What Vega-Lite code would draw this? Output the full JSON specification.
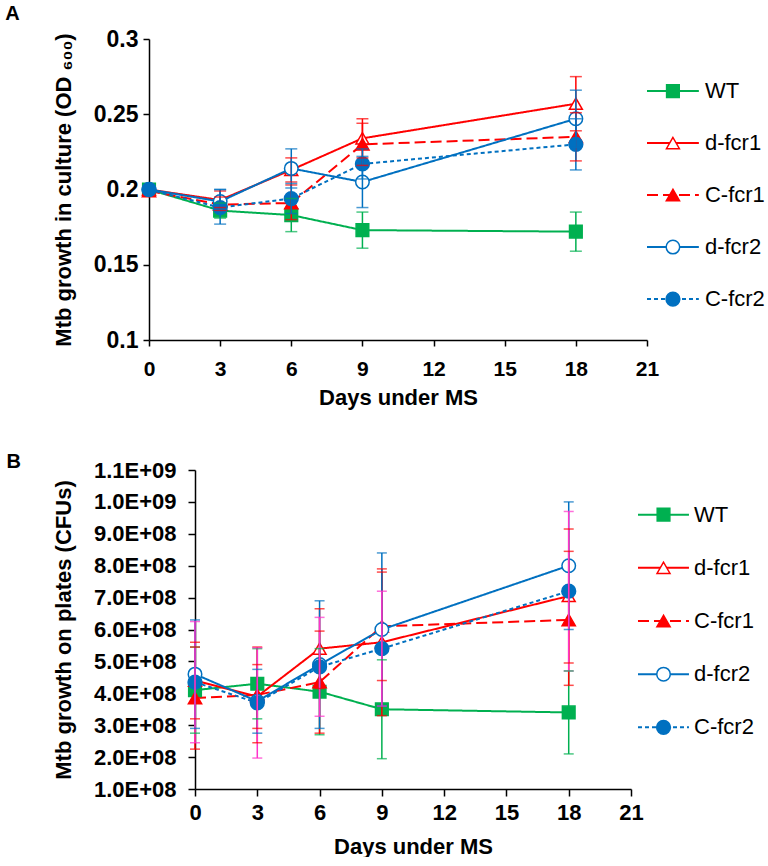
{
  "$schema": "https://vega.github.io/schema/vega-lite/v6.json",
  "background": "white",
  "padding": {"left": 5, "top": 4, "right": 0, "bottom": 0},
  "config": {
    "view": {"stroke": null},
    "font": "Liberation Sans",
    "legend": {"disable": true},
    "axis": {
      "domainColor": "#000000", "domainWidth": 1.5, "tickColor": "#000000", "tickWidth": 1.5,
      "grid": false, "labelColor": "#000000", "titleColor": "#000000",
      "labelFont": "Liberation Sans", "titleFont": "Liberation Sans",
      "labelFontWeight": "bold", "titleFontWeight": "bold", "labelOverlap": false
    },
    "title": {"font": "Liberation Sans", "fontWeight": "bold", "color": "#000000", "anchor": "start", "frame": "bounds"}
  },
  "datasets": {
    "a": [
      {"series": "WT", "day": 0, "value": 0.2, "lo": null, "hi": null},
      {"series": "WT", "day": 3, "value": 0.186, "lo": 0.181, "hi": 0.191},
      {"series": "WT", "day": 6, "value": 0.183, "lo": 0.172, "hi": 0.194},
      {"series": "WT", "day": 9, "value": 0.173, "lo": 0.161, "hi": 0.185},
      {"series": "WT", "day": 18, "value": 0.172, "lo": 0.159, "hi": 0.185},
      {"series": "d-fcr1", "day": 0, "value": 0.2, "lo": null, "hi": null},
      {"series": "d-fcr1", "day": 3, "value": 0.193, "lo": 0.188, "hi": 0.199},
      {"series": "d-fcr1", "day": 6, "value": 0.213, "lo": 0.205, "hi": 0.221},
      {"series": "d-fcr1", "day": 9, "value": 0.234, "lo": 0.221, "hi": 0.247},
      {"series": "d-fcr1", "day": 18, "value": 0.257, "lo": 0.239, "hi": 0.275},
      {"series": "C-fcr1", "day": 0, "value": 0.199, "lo": null, "hi": null},
      {"series": "C-fcr1", "day": 3, "value": 0.19, "lo": 0.186, "hi": 0.195},
      {"series": "C-fcr1", "day": 6, "value": 0.191, "lo": 0.18, "hi": 0.203},
      {"series": "C-fcr1", "day": 9, "value": 0.23, "lo": 0.216, "hi": 0.244},
      {"series": "C-fcr1", "day": 18, "value": 0.235, "lo": 0.219, "hi": 0.251},
      {"series": "d-fcr2", "day": 0, "value": 0.2, "lo": null, "hi": null},
      {"series": "d-fcr2", "day": 3, "value": 0.192, "lo": 0.185, "hi": 0.2},
      {"series": "d-fcr2", "day": 6, "value": 0.214, "lo": 0.201, "hi": 0.227},
      {"series": "d-fcr2", "day": 9, "value": 0.205, "lo": 0.188, "hi": 0.222},
      {"series": "d-fcr2", "day": 18, "value": 0.247, "lo": 0.228, "hi": 0.266},
      {"series": "C-fcr2", "day": 0, "value": 0.2, "lo": null, "hi": null},
      {"series": "C-fcr2", "day": 3, "value": 0.188, "lo": 0.177, "hi": 0.2},
      {"series": "C-fcr2", "day": 6, "value": 0.194, "lo": 0.184, "hi": 0.204},
      {"series": "C-fcr2", "day": 9, "value": 0.217, "lo": 0.207, "hi": 0.227},
      {"series": "C-fcr2", "day": 18, "value": 0.23, "lo": 0.213, "hi": 0.247}
    ],
    "b": [
      {"series": "WT", "day": 0, "value": 410000000, "lo": 275000000, "hi": 545000000},
      {"series": "WT", "day": 3, "value": 430000000, "lo": 320000000, "hi": 540000000},
      {"series": "WT", "day": 6, "value": 405000000, "lo": 270000000, "hi": 540000000},
      {"series": "WT", "day": 9, "value": 350000000, "lo": 195000000, "hi": 505000000},
      {"series": "WT", "day": 18, "value": 340000000, "lo": 210000000, "hi": 470000000},
      {"series": "d-fcr1", "day": 0, "value": 440000000, "lo": 320000000, "hi": 560000000},
      {"series": "d-fcr1", "day": 3, "value": 390000000, "lo": 290000000, "hi": 490000000},
      {"series": "d-fcr1", "day": 6, "value": 540000000, "lo": 415000000, "hi": 665000000},
      {"series": "d-fcr1", "day": 9, "value": 560000000, "lo": 330000000, "hi": 790000000},
      {"series": "d-fcr1", "day": 18, "value": 705000000, "lo": 495000000, "hi": 915000000},
      {"series": "C-fcr1", "day": 0, "value": 385000000, "lo": 225000000, "hi": 545000000},
      {"series": "C-fcr1", "day": 3, "value": 395000000, "lo": 245000000, "hi": 545000000},
      {"series": "C-fcr1", "day": 6, "value": 435000000, "lo": 275000000, "hi": 595000000},
      {"series": "C-fcr1", "day": 9, "value": 610000000, "lo": 440000000, "hi": 780000000},
      {"series": "C-fcr1", "day": 18, "value": 630000000, "lo": 425000000, "hi": 845000000},
      {"series": "d-fcr2", "day": 0, "value": 460000000, "lo": 290000000, "hi": 630000000},
      {"series": "d-fcr2", "day": 3, "value": 375000000, "lo": 275000000, "hi": 475000000},
      {"series": "d-fcr2", "day": 6, "value": 490000000, "lo": 290000000, "hi": 690000000},
      {"series": "d-fcr2", "day": 9, "value": 600000000, "lo": 360000000, "hi": 840000000},
      {"series": "d-fcr2", "day": 18, "value": 800000000, "lo": 600000000, "hi": 1000000000},
      {"series": "C-fcr2", "day": 0, "value": 435000000, "lo": 245000000, "hi": 625000000},
      {"series": "C-fcr2", "day": 3, "value": 370000000, "lo": 197000000, "hi": 543000000},
      {"series": "C-fcr2", "day": 6, "value": 483000000, "lo": 328000000, "hi": 638000000},
      {"series": "C-fcr2", "day": 9, "value": 540000000, "lo": 360000000, "hi": 720000000},
      {"series": "C-fcr2", "day": 18, "value": 720000000, "lo": 470000000, "hi": 970000000}
    ],
    "legend": [
      {"series": "WT"}, {"series": "d-fcr1"}, {"series": "C-fcr1"}, {"series": "d-fcr2"}, {"series": "C-fcr2"}
    ]
  },
  "resolve": {"scale": {"x": "independent", "y": "independent"}},
  "spacing": 44,
  "vconcat": [
    {
      "bounds": "flush",
      "spacing": 0,
      "resolve": {"scale": {"x": "independent", "y": "independent"}},
      "hconcat": [
        {
          "width": 498, "height": 301,
          "title": {"text": "A", "fontSize": 20, "offset": 4, "dx": -47},
          "data": {"name": "a"},
          "encoding": {
            "x": {"field": "day", "type": "quantitative",
              "scale": {"domain": [0, 21], "nice": false, "zero": false},
              "axis": {"values": [0, 3, 6, 9, 12, 15, 18, 21], "tickCount": 8, "title": "Days under MS", "labelFontSize": 21, "titleFontSize": 22, "tickSize": 6, "labelPadding": 12, "titlePadding": 8, "labelFlush": false}}
          },
          "layer": [
            {
              "mark": {"type": "line", "strokeWidth": 2},
              "encoding": {
                "y": {"field": "value", "type": "quantitative", "title": "Mtb growth in culture (OD ₆₀₀)",
                  "scale": {"domain": [0.1, 0.3], "nice": false, "zero": false},
                  "axis": {"values": [0.1, 0.15, 0.2, 0.25, 0.3], "tickCount": 5, "format": ".2~f", "labelFontSize": 23, "titleFontSize": 22, "tickSize": 6, "labelPadding": 5, "titlePadding": 18}},
                "color": {"field": "series", "type": "nominal", "scale": {"domain": ["WT", "d-fcr1", "C-fcr1", "d-fcr2", "C-fcr2"], "range": ["#00B050", "#FF0000", "#FF0000", "#0070C0", "#0070C0"]}},
                "strokeDash": {"field": "series", "type": "nominal", "scale": {"domain": ["WT", "d-fcr1", "C-fcr1", "d-fcr2", "C-fcr2"], "range": [[1, 0], [1, 0], [11, 5], [1, 0], [4, 3]]}}
              }
            },
            {
              "mark": {"type": "point", "filled": true, "opacity": 1, "strokeWidth": 1.5},
              "encoding": {
                "y": {"field": "value", "type": "quantitative", "title": "Mtb growth in culture (OD ₆₀₀)"},
                "shape": {"field": "series", "type": "nominal", "scale": {"domain": ["WT", "d-fcr1", "C-fcr1", "d-fcr2", "C-fcr2"], "range": ["square", "triangle-up", "triangle-up", "circle", "circle"]}},
                "size": {"field": "series", "type": "nominal", "scale": {"domain": ["WT", "d-fcr1", "C-fcr1", "d-fcr2", "C-fcr2"], "range": [160, 190, 220, 85, 150]}},
                "fill": {"condition": {"test": "datum.series === 'd-fcr1' || datum.series === 'd-fcr2'", "value": "white"}, "field": "series", "type": "nominal", "scale": {"domain": ["WT", "d-fcr1", "C-fcr1", "d-fcr2", "C-fcr2"], "range": ["#00B050", "#FF0000", "#FF0000", "#0070C0", "#0070C0"]}},
                "stroke": {"field": "series", "type": "nominal", "scale": {"domain": ["WT", "d-fcr1", "C-fcr1", "d-fcr2", "C-fcr2"], "range": ["#00B050", "#FF0000", "#FF0000", "#0070C0", "#0070C0"]}}
              }
            },
            {
              "transform": [{"filter": "isValid(datum.lo)"}],
              "mark": {"type": "rule", "strokeWidth": 1.5},
              "encoding": {
                "y": {"field": "lo", "type": "quantitative", "title": "Mtb growth in culture (OD ₆₀₀)"},
                "y2": {"field": "hi"},
                "color": {"field": "series", "type": "nominal", "scale": {"domain": ["WT", "d-fcr1", "C-fcr1", "d-fcr2", "C-fcr2"], "range": ["#00B050", "#FF0000", "#FF0000", "#0070C0", "#0070C0"]}}
              }
            },
            {
              "transform": [{"filter": "isValid(datum.lo)"}],
              "mark": {"type": "tick", "orient": "horizontal", "size": 12, "thickness": 1.5},
              "encoding": {
                "y": {"field": "lo", "type": "quantitative", "title": "Mtb growth in culture (OD ₆₀₀)"},
                "color": {"field": "series", "type": "nominal", "scale": {"domain": ["WT", "d-fcr1", "C-fcr1", "d-fcr2", "C-fcr2"], "range": ["#00B050", "#FF0000", "#FF0000", "#0070C0", "#0070C0"]}}
              }
            },
            {
              "transform": [{"filter": "isValid(datum.hi)"}],
              "mark": {"type": "tick", "orient": "horizontal", "size": 12, "thickness": 1.5},
              "encoding": {
                "y": {"field": "hi", "type": "quantitative", "title": "Mtb growth in culture (OD ₆₀₀)"},
                "color": {"field": "series", "type": "nominal", "scale": {"domain": ["WT", "d-fcr1", "C-fcr1", "d-fcr2", "C-fcr2"], "range": ["#00B050", "#FF0000", "#FF0000", "#0070C0", "#0070C0"]}}
              }
            }
          ]
        },
        {
          "width": 122, "height": 301,
          "data": {"name": "legend"},
          "encoding": {
            "y": {"field": "series", "type": "nominal", "sort": ["WT", "d-fcr1", "C-fcr1", "d-fcr2", "C-fcr2"], "scale": {"type": "point", "padding": 0.894, "align": 0.56}, "axis": null}
          },
          "layer": [
            {
              "mark": {"type": "rule", "strokeWidth": 2},
              "encoding": {
                "x": {"datum": 0, "type": "quantitative", "scale": {"domain": [0, 10], "nice": false}, "axis": null},
                "x2": {"datum": 4.25},
                "color": {"field": "series", "type": "nominal", "scale": {"domain": ["WT", "d-fcr1", "C-fcr1", "d-fcr2", "C-fcr2"], "range": ["#00B050", "#FF0000", "#FF0000", "#0070C0", "#0070C0"]}},
                "strokeDash": {"field": "series", "type": "nominal", "scale": {"domain": ["WT", "d-fcr1", "C-fcr1", "d-fcr2", "C-fcr2"], "range": [[1, 0], [1, 0], [11, 5], [1, 0], [4, 3]]}}
              }
            },
            {
              "mark": {"type": "point", "filled": true, "opacity": 1, "strokeWidth": 1.5},
              "encoding": {
                "x": {"datum": 2.125, "type": "quantitative"},
                "shape": {"field": "series", "type": "nominal", "scale": {"domain": ["WT", "d-fcr1", "C-fcr1", "d-fcr2", "C-fcr2"], "range": ["square", "triangle-up", "triangle-up", "circle", "circle"]}},
                "size": {"field": "series", "type": "nominal", "scale": {"domain": ["WT", "d-fcr1", "C-fcr1", "d-fcr2", "C-fcr2"], "range": [160, 190, 220, 85, 150]}},
                "fill": {"condition": {"test": "datum.series === 'd-fcr1' || datum.series === 'd-fcr2'", "value": "white"}, "field": "series", "type": "nominal", "scale": {"domain": ["WT", "d-fcr1", "C-fcr1", "d-fcr2", "C-fcr2"], "range": ["#00B050", "#FF0000", "#FF0000", "#0070C0", "#0070C0"]}},
                "stroke": {"field": "series", "type": "nominal", "scale": {"domain": ["WT", "d-fcr1", "C-fcr1", "d-fcr2", "C-fcr2"], "range": ["#00B050", "#FF0000", "#FF0000", "#0070C0", "#0070C0"]}}
              }
            },
            {
              "mark": {"type": "text", "align": "left", "baseline": "middle", "fontSize": 22, "font": "Liberation Sans", "color": "#000000"},
              "encoding": {
                "x": {"datum": 4.75, "type": "quantitative"},
                "text": {"field": "series"}
              }
            }
          ]
        }
      ]
    },
    {
      "bounds": "flush",
      "spacing": 0,
      "resolve": {"scale": {"x": "independent", "y": "independent"}},
      "hconcat": [
        {
          "width": 46, "height": 319,
          "data": {"name": "legend"},
          "mark": {"type": "text", "opacity": 0},
          "encoding": {"text": {"value": ""}}
        },
        {
          "width": 436, "height": 319,
          "title": {"text": "B", "fontSize": 20, "offset": -13, "dx": -46},
          "data": {"name": "b"},
          "encoding": {
            "x": {"field": "day", "type": "quantitative",
              "scale": {"domain": [0, 21], "nice": false, "zero": false},
              "axis": {"values": [0, 3, 6, 9, 12, 15, 18, 21], "tickCount": 8, "title": "Days under MS", "labelFontSize": 22, "titleFontSize": 22, "tickSize": 7, "labelPadding": 6, "titlePadding": 13, "labelFlush": false}}
          },
          "layer": [
            {
              "mark": {"type": "line", "strokeWidth": 2},
              "encoding": {
                "y": {"field": "value", "type": "quantitative", "title": "Mtb growth on plates (CFUs)",
                  "scale": {"domain": [100000000, 1100000000], "nice": false, "zero": false},
                  "axis": {"values": [100000000, 200000000, 300000000, 400000000, 500000000, 600000000, 700000000, 800000000, 900000000, 1000000000, 1100000000], "tickCount": 11, "labelExpr": "replace(format(datum.value, '.1e'), 'e+', 'E+0')", "labelFontSize": 22, "titleFontSize": 22, "tickSize": 7, "labelPadding": 12, "titlePadding": 18, "labelOverlap": false}},
                "color": {"field": "series", "type": "nominal", "scale": {"domain": ["WT", "d-fcr1", "C-fcr1", "d-fcr2", "C-fcr2"], "range": ["#00B050", "#FF0000", "#FF0000", "#0070C0", "#0070C0"]}},
                "strokeDash": {"field": "series", "type": "nominal", "scale": {"domain": ["WT", "d-fcr1", "C-fcr1", "d-fcr2", "C-fcr2"], "range": [[1, 0], [1, 0], [11, 5], [1, 0], [4, 3]]}}
              }
            },
            {
              "mark": {"type": "point", "filled": true, "opacity": 1, "strokeWidth": 1.5},
              "encoding": {
                "y": {"field": "value", "type": "quantitative", "title": "Mtb growth on plates (CFUs)"},
                "shape": {"field": "series", "type": "nominal", "scale": {"domain": ["WT", "d-fcr1", "C-fcr1", "d-fcr2", "C-fcr2"], "range": ["square", "triangle-up", "triangle-up", "circle", "circle"]}},
                "size": {"field": "series", "type": "nominal", "scale": {"domain": ["WT", "d-fcr1", "C-fcr1", "d-fcr2", "C-fcr2"], "range": [160, 190, 220, 85, 150]}},
                "fill": {"condition": {"test": "datum.series === 'd-fcr1' || datum.series === 'd-fcr2'", "value": "white"}, "field": "series", "type": "nominal", "scale": {"domain": ["WT", "d-fcr1", "C-fcr1", "d-fcr2", "C-fcr2"], "range": ["#00B050", "#FF0000", "#FF0000", "#0070C0", "#0070C0"]}},
                "stroke": {"field": "series", "type": "nominal", "scale": {"domain": ["WT", "d-fcr1", "C-fcr1", "d-fcr2", "C-fcr2"], "range": ["#00B050", "#FF0000", "#FF0000", "#0070C0", "#0070C0"]}}
              }
            },
            {
              "mark": {"type": "rule", "strokeWidth": 1.5},
              "encoding": {
                "y": {"field": "lo", "type": "quantitative", "title": "Mtb growth on plates (CFUs)"},
                "y2": {"field": "hi"},
                "color": {"condition": {"test": "datum.series === 'C-fcr2'", "value": "#FF33CC"}, "field": "series", "type": "nominal", "scale": {"domain": ["WT", "d-fcr1", "C-fcr1", "d-fcr2", "C-fcr2"], "range": ["#00B050", "#FF0000", "#FF0000", "#0070C0", "#0070C0"]}}
              }
            },
            {
              "mark": {"type": "tick", "orient": "horizontal", "size": 10, "thickness": 1.5},
              "encoding": {
                "y": {"field": "lo", "type": "quantitative", "title": "Mtb growth on plates (CFUs)"},
                "color": {"condition": {"test": "datum.series === 'C-fcr2'", "value": "#FF33CC"}, "field": "series", "type": "nominal", "scale": {"domain": ["WT", "d-fcr1", "C-fcr1", "d-fcr2", "C-fcr2"], "range": ["#00B050", "#FF0000", "#FF0000", "#0070C0", "#0070C0"]}}
              }
            },
            {
              "mark": {"type": "tick", "orient": "horizontal", "size": 10, "thickness": 1.5},
              "encoding": {
                "y": {"field": "hi", "type": "quantitative", "title": "Mtb growth on plates (CFUs)"},
                "color": {"condition": {"test": "datum.series === 'C-fcr2'", "value": "#FF33CC"}, "field": "series", "type": "nominal", "scale": {"domain": ["WT", "d-fcr1", "C-fcr1", "d-fcr2", "C-fcr2"], "range": ["#00B050", "#FF0000", "#FF0000", "#0070C0", "#0070C0"]}}
              }
            }
          ]
        },
        {
          "width": 130, "height": 319,
          "data": {"name": "legend"},
          "encoding": {
            "y": {"field": "series", "type": "nominal", "sort": ["WT", "d-fcr1", "C-fcr1", "d-fcr2", "C-fcr2"], "scale": {"type": "point", "padding": 1.32, "align": 0.42}, "axis": null}
          },
          "layer": [
            {
              "mark": {"type": "rule", "strokeWidth": 2},
              "encoding": {
                "x": {"datum": 0.583, "type": "quantitative", "scale": {"domain": [0, 10], "nice": false, "range": [0, 120]}, "axis": null},
                "x2": {"datum": 4.83},
                "color": {"field": "series", "type": "nominal", "scale": {"domain": ["WT", "d-fcr1", "C-fcr1", "d-fcr2", "C-fcr2"], "range": ["#00B050", "#FF0000", "#FF0000", "#0070C0", "#0070C0"]}},
                "strokeDash": {"field": "series", "type": "nominal", "scale": {"domain": ["WT", "d-fcr1", "C-fcr1", "d-fcr2", "C-fcr2"], "range": [[1, 0], [1, 0], [11, 5], [1, 0], [4, 3]]}}
              }
            },
            {
              "mark": {"type": "point", "filled": true, "opacity": 1, "strokeWidth": 1.5},
              "encoding": {
                "x": {"datum": 2.71, "type": "quantitative"},
                "shape": {"field": "series", "type": "nominal", "scale": {"domain": ["WT", "d-fcr1", "C-fcr1", "d-fcr2", "C-fcr2"], "range": ["square", "triangle-up", "triangle-up", "circle", "circle"]}},
                "size": {"field": "series", "type": "nominal", "scale": {"domain": ["WT", "d-fcr1", "C-fcr1", "d-fcr2", "C-fcr2"], "range": [160, 190, 220, 85, 150]}},
                "fill": {"condition": {"test": "datum.series === 'd-fcr1' || datum.series === 'd-fcr2'", "value": "white"}, "field": "series", "type": "nominal", "scale": {"domain": ["WT", "d-fcr1", "C-fcr1", "d-fcr2", "C-fcr2"], "range": ["#00B050", "#FF0000", "#FF0000", "#0070C0", "#0070C0"]}},
                "stroke": {"field": "series", "type": "nominal", "scale": {"domain": ["WT", "d-fcr1", "C-fcr1", "d-fcr2", "C-fcr2"], "range": ["#00B050", "#FF0000", "#FF0000", "#0070C0", "#0070C0"]}}
              }
            },
            {
              "mark": {"type": "text", "align": "left", "baseline": "middle", "fontSize": 22, "font": "Liberation Sans", "color": "#000000"},
              "encoding": {
                "x": {"datum": 5.25, "type": "quantitative"},
                "text": {"field": "series"}
              }
            }
          ]
        }
      ]
    }
  ]
}
